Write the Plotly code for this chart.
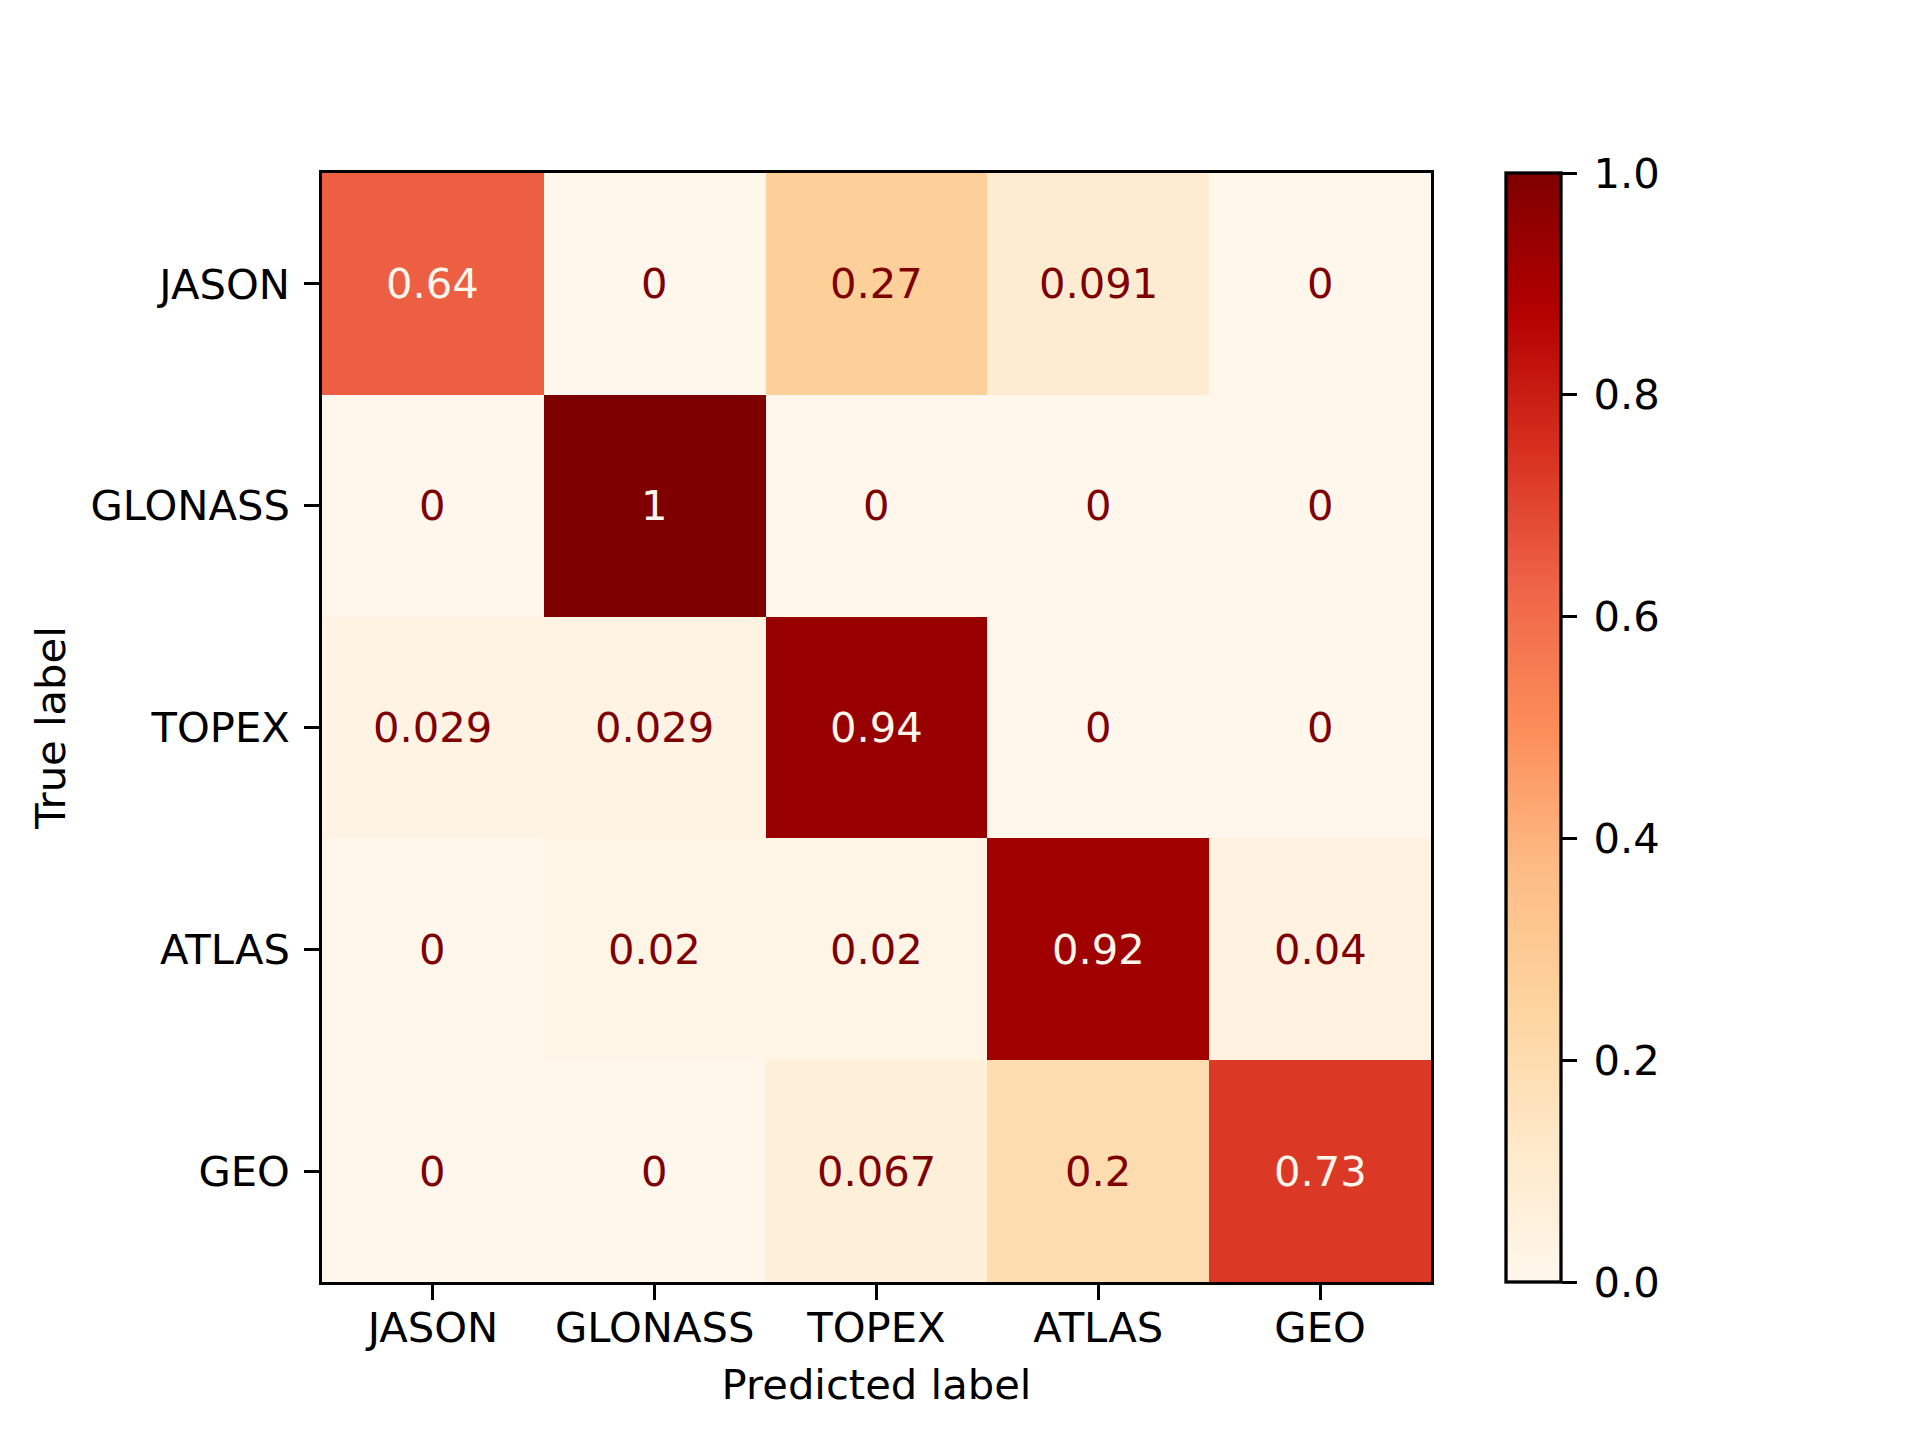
import plotly.graph_objects as go

labels = ["JASON", "GLONASS", "TOPEX", "ATLAS", "GEO"]
values = [
    [0.64, 0, 0.27, 0.091, 0],
    [0, 1, 0, 0, 0],
    [0.029, 0.029, 0.94, 0, 0],
    [0, 0.02, 0.02, 0.92, 0.04],
    [0, 0, 0.067, 0.2, 0.73],
]
cbar_ticks = [0.0, 0.2, 0.4, 0.6, 0.8, 1.0]
cbar_ticktext = ["0.0", "0.2", "0.4", "0.6", "0.8", "1.0"]

FONT = "DejaVu Sans"
FS = 41.7
LW = 3.3

fig = go.Figure()
fig.add_trace(go.Heatmap(
    z=values, x=labels, y=labels,
    colorscale="OrRd", zmin=0, zmax=1,
    xgap=0, ygap=0,
    colorbar=dict(
        x=(1506 - 322) / 1109, xanchor="left", xref="paper",
        y=0.5, yanchor="middle", len=1, lenmode="fraction",
        thickness=55, outlinewidth=LW, outlinecolor="black",
        ticks="outside", ticklen=14.6, tickwidth=LW, tickcolor="black",
        tickvals=cbar_ticks, ticktext=["\u2009" + t for t in cbar_ticktext],
        tickfont=dict(family=FONT, size=FS, color="black"),
        ypad=0, xpad=0,
    ),
    hoverinfo="skip",
))

annotations = []
for i, row in enumerate(values):
    for j, v in enumerate(row):
        color = "#fff7ec" if v > 0.5 else "#7f0000"
        annotations.append(dict(
            x=labels[j], y=labels[i], text=format(v, ".2g"),
            showarrow=False, xref="x", yref="y",
            font=dict(family=FONT, size=FS, color=color),
        ))

fig.update_layout(
    width=1920, height=1440,
    margin=dict(l=322, r=1920 - 1431, t=173, b=1440 - 1282, pad=0),
    paper_bgcolor="white", plot_bgcolor="white",
    font=dict(family=FONT, size=FS, color="black"),
    annotations=annotations,
    xaxis=dict(
        title=dict(text="Predicted label", font=dict(family=FONT, size=FS), standoff=20),
        showline=True, linewidth=LW, linecolor="black", mirror=True,
        ticks="outside", ticklen=14.6, tickwidth=LW, tickcolor="black",
        showgrid=False, zeroline=False, constrain="domain",
        ticklabelstandoff=-8,
        tickfont=dict(family=FONT, size=FS, color="black"),
    ),
    yaxis=dict(
        title=dict(text="True label", font=dict(family=FONT, size=FS), standoff=12),
        showline=True, linewidth=LW, linecolor="black", mirror=True,
        ticks="outside", ticklen=14.6, tickwidth=LW, tickcolor="black",
        showgrid=False, zeroline=False, autorange="reversed",
        ticklabelstandoff=6,
        tickfont=dict(family=FONT, size=FS, color="black"),
    ),
)

fig.write_html("out.html", config={"displayModeBar": False},
               post_script="document.body.style.margin='0';")
